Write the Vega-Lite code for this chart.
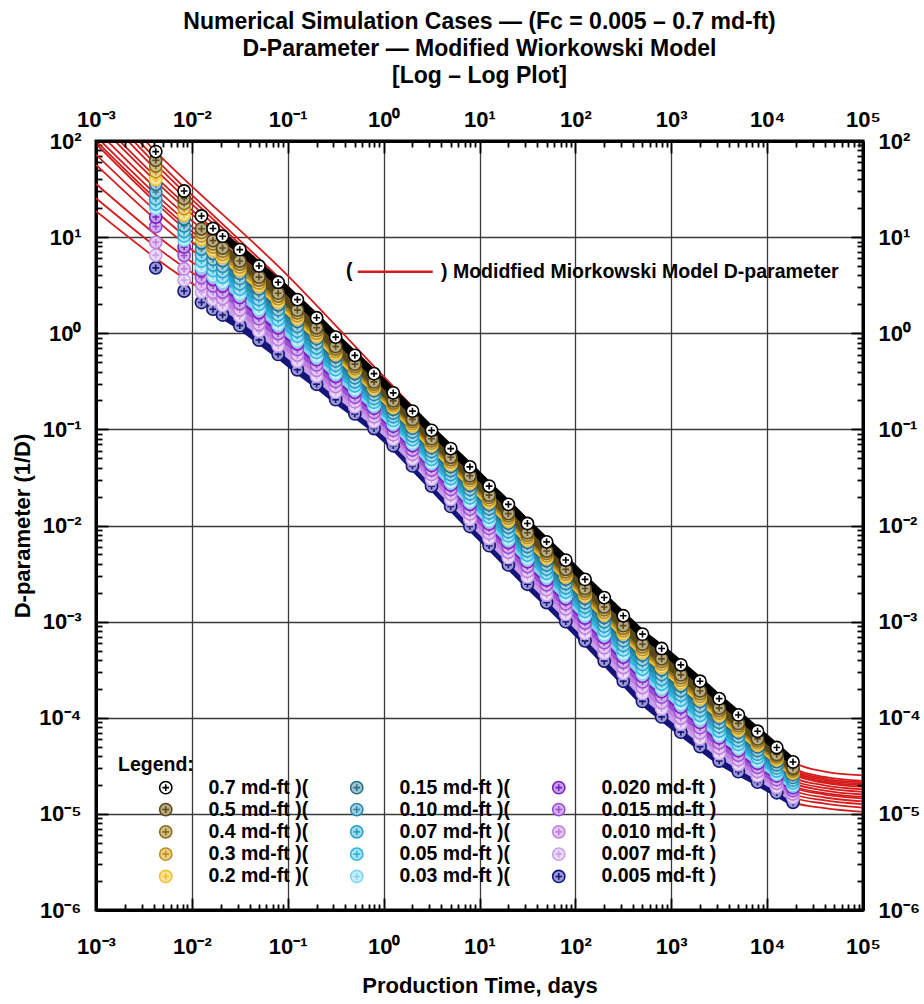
{
"$schema": "https://vega.github.io/schema/vega-lite/v6.json",
"width": 767, "height": 769,
"autosize": {"type": "none"},
"padding": {"left": 96, "top": 141, "right": 61, "bottom": 94},
"background": "white",
"title": {"text": ["Numerical Simulation Cases \u2014 (Fc = 0.005 \u2013 0.7 md-ft)", "D-Parameter \u2014 Modified Wiorkowski Model", "[Log \u2013 Log Plot]"], "frame": "group", "anchor": "middle", "font": "Liberation Sans, Arial, sans-serif", "fontSize": 23, "fontWeight": "bold", "lineHeight": 27, "offset": 14, "color": "black"},
"config": {
  "view": {"stroke": "black", "strokeWidth": 3},
  "axis": {"labelFont": "Liberation Sans, Arial, sans-serif", "labelFontSize": 22, "labelFontWeight": "bold", "labelColor": "black", "tickColor": "black", "tickWidth": 1.8, "domainColor": "black", "domainWidth": 3, "titleFont": "Liberation Sans, Arial, sans-serif", "titleFontSize": 22, "titleFontWeight": "bold", "titleColor": "black", "labelFlush": false, "labelOverlap": false, "labelBound": false, "gridColor": "#3a3a3a", "gridWidth": 1.3}
},
"datasets": {
"mdl": [
{"s":"0.005","t":0.001,"D":18.6},{"s":"0.005","t":0.0042,"D":6.03},{"s":"0.005","t":0.1,"D":0.708},{"s":"0.005","t":1,"D":0.1},{"s":"0.005","t":10,"D":0.00776},{"s":"0.005","t":100,"D":7.94e-4},{"s":"0.005","t":501,"D":1.48e-4},{"s":"0.005","t":1000,"D":8.51e-5},{"s":"0.005","t":3162,"D":3.55e-5},{"s":"0.005","t":10000,"D":1.91e-5},{"s":"0.005","t":18621,"D":1.32e-5},{"s":"0.005","t":39811,"D":1.15e-5},{"s":"0.005","t":100000,"D":1.05e-5},
{"s":"0.007","t":0.001,"D":25.4},{"s":"0.007","t":0.0042,"D":7.96},{"s":"0.007","t":0.1,"D":0.871},{"s":"0.007","t":1,"D":0.116},{"s":"0.007","t":10,"D":0.0092},{"s":"0.007","t":100,"D":9.48e-4},{"s":"0.007","t":501,"D":1.79e-4},{"s":"0.007","t":1000,"D":1.04e-4},{"s":"0.007","t":3162,"D":4.25e-5},{"s":"0.007","t":10000,"D":2.19e-5},{"s":"0.007","t":18621,"D":1.48e-5},{"s":"0.007","t":39811,"D":1.28e-5},{"s":"0.007","t":100000,"D":1.16e-5},
{"s":"0.010","t":0.001,"D":35.7},{"s":"0.010","t":0.0042,"D":10.6},{"s":"0.010","t":0.1,"D":1.02},{"s":"0.010","t":1,"D":0.13},{"s":"0.010","t":10,"D":0.0105},{"s":"0.010","t":100,"D":0.00108},{"s":"0.010","t":501,"D":2.07e-4},{"s":"0.010","t":1000,"D":1.2e-4},{"s":"0.010","t":3162,"D":4.85e-5},{"s":"0.010","t":10000,"D":2.43e-5},{"s":"0.010","t":18621,"D":1.61e-5},{"s":"0.010","t":39811,"D":1.38e-5},{"s":"0.010","t":100000,"D":1.26e-5},
{"s":"0.015","t":0.001,"D":56.6},{"s":"0.015","t":0.0042,"D":15.2},{"s":"0.015","t":0.1,"D":1.17},{"s":"0.015","t":1,"D":0.145},{"s":"0.015","t":10,"D":0.0117},{"s":"0.015","t":100,"D":0.00122},{"s":"0.015","t":501,"D":2.36e-4},{"s":"0.015","t":1000,"D":1.37e-4},{"s":"0.015","t":3162,"D":5.47e-5},{"s":"0.015","t":10000,"D":2.66e-5},{"s":"0.015","t":18621,"D":1.75e-5},{"s":"0.015","t":39811,"D":1.48e-5},{"s":"0.015","t":100000,"D":1.35e-5},
{"s":"0.020","t":0.001,"D":72.3},{"s":"0.020","t":0.0042,"D":18.7},{"s":"0.020","t":0.1,"D":1.34},{"s":"0.020","t":1,"D":0.16},{"s":"0.020","t":10,"D":0.0132},{"s":"0.020","t":100,"D":0.00137},{"s":"0.020","t":501,"D":2.69e-4},{"s":"0.020","t":1000,"D":1.56e-4},{"s":"0.020","t":3162,"D":6.17e-5},{"s":"0.020","t":10000,"D":2.92e-5},{"s":"0.020","t":18621,"D":1.88e-5},{"s":"0.020","t":39811,"D":1.59e-5},{"s":"0.020","t":100000,"D":1.45e-5},
{"s":"0.03","t":0.001,"D":93.3},{"s":"0.03","t":0.0042,"D":22.9},{"s":"0.03","t":0.1,"D":1.44},{"s":"0.03","t":1,"D":0.168},{"s":"0.03","t":10,"D":0.0139},{"s":"0.03","t":100,"D":0.00145},{"s":"0.03","t":501,"D":2.86e-4},{"s":"0.03","t":1000,"D":1.66e-4},{"s":"0.03","t":3162,"D":6.55e-5},{"s":"0.03","t":10000,"D":3.05e-5},{"s":"0.03","t":18621,"D":1.96e-5},{"s":"0.03","t":39811,"D":1.64e-5},{"s":"0.03","t":100000,"D":1.5e-5},
{"s":"0.05","t":0.001,"D":100},{"s":"0.05","t":0.0042,"D":24.9},{"s":"0.05","t":0.1,"D":1.62},{"s":"0.05","t":1,"D":0.183},{"s":"0.05","t":10,"D":0.0154},{"s":"0.05","t":100,"D":0.00161},{"s":"0.05","t":501,"D":3.21e-4},{"s":"0.05","t":1000,"D":1.87e-4},{"s":"0.05","t":3162,"D":7.28e-5},{"s":"0.05","t":10000,"D":3.31e-5},{"s":"0.05","t":18621,"D":2.1e-5},{"s":"0.05","t":39811,"D":1.75e-5},{"s":"0.05","t":100000,"D":1.59e-5},
{"s":"0.07","t":0.001,"D":112},{"s":"0.07","t":0.0042,"D":27.9},{"s":"0.07","t":0.1,"D":1.83},{"s":"0.07","t":1,"D":0.201},{"s":"0.07","t":10,"D":0.017},{"s":"0.07","t":100,"D":0.00179},{"s":"0.07","t":501,"D":3.59e-4},{"s":"0.07","t":1000,"D":2.09e-4},{"s":"0.07","t":3162,"D":8.07e-5},{"s":"0.07","t":10000,"D":3.59e-5},{"s":"0.07","t":18621,"D":2.24e-5},{"s":"0.07","t":39811,"D":1.86e-5},{"s":"0.07","t":100000,"D":1.69e-5},
{"s":"0.10","t":0.001,"D":131},{"s":"0.10","t":0.0042,"D":32.2},{"s":"0.10","t":0.1,"D":2.07},{"s":"0.10","t":1,"D":0.22},{"s":"0.10","t":10,"D":0.0188},{"s":"0.10","t":100,"D":0.00198},{"s":"0.10","t":501,"D":4.02e-4},{"s":"0.10","t":1000,"D":2.34e-4},{"s":"0.10","t":3162,"D":8.97e-5},{"s":"0.10","t":10000,"D":3.89e-5},{"s":"0.10","t":18621,"D":2.4e-5},{"s":"0.10","t":39811,"D":1.98e-5},{"s":"0.10","t":100000,"D":1.8e-5},
{"s":"0.15","t":0.001,"D":158},{"s":"0.15","t":0.0042,"D":38.1},{"s":"0.15","t":0.1,"D":2.33},{"s":"0.15","t":1,"D":0.24},{"s":"0.15","t":10,"D":0.0208},{"s":"0.15","t":100,"D":0.0022},{"s":"0.15","t":501,"D":4.5e-4},{"s":"0.15","t":1000,"D":2.63e-4},{"s":"0.15","t":3162,"D":9.95e-5},{"s":"0.15","t":10000,"D":4.22e-5},{"s":"0.15","t":18621,"D":2.57e-5},{"s":"0.15","t":39811,"D":2.1e-5},{"s":"0.15","t":100000,"D":1.91e-5},
{"s":"0.2","t":0.001,"D":178},{"s":"0.2","t":0.0042,"D":42.4},{"s":"0.2","t":0.1,"D":2.5},{"s":"0.2","t":1,"D":0.253},{"s":"0.2","t":10,"D":0.022},{"s":"0.2","t":100,"D":0.00233},{"s":"0.2","t":501,"D":4.8e-4},{"s":"0.2","t":1000,"D":2.81e-4},{"s":"0.2","t":3162,"D":1.06e-4},{"s":"0.2","t":10000,"D":4.42e-5},{"s":"0.2","t":18621,"D":2.67e-5},{"s":"0.2","t":39811,"D":2.17e-5},{"s":"0.2","t":100000,"D":1.98e-5},
{"s":"0.3","t":0.001,"D":223},{"s":"0.3","t":0.0042,"D":50.5},{"s":"0.3","t":0.1,"D":2.68},{"s":"0.3","t":1,"D":0.266},{"s":"0.3","t":10,"D":0.0233},{"s":"0.3","t":100,"D":0.00247},{"s":"0.3","t":501,"D":5.12e-4},{"s":"0.3","t":1000,"D":3e-4},{"s":"0.3","t":3162,"D":1.12e-4},{"s":"0.3","t":10000,"D":4.62e-5},{"s":"0.3","t":18621,"D":2.77e-5},{"s":"0.3","t":39811,"D":2.25e-5},{"s":"0.3","t":100000,"D":2.06e-5},
{"s":"0.4","t":0.001,"D":261},{"s":"0.4","t":0.0042,"D":57.4},{"s":"0.4","t":0.1,"D":2.87},{"s":"0.4","t":1,"D":0.278},{"s":"0.4","t":10,"D":0.0247},{"s":"0.4","t":100,"D":0.00262},{"s":"0.4","t":501,"D":5.46e-4},{"s":"0.4","t":1000,"D":3.2e-4},{"s":"0.4","t":3162,"D":1.19e-4},{"s":"0.4","t":10000,"D":4.84e-5},{"s":"0.4","t":18621,"D":2.88e-5},{"s":"0.4","t":39811,"D":2.33e-5},{"s":"0.4","t":100000,"D":2.13e-5},
{"s":"0.5","t":0.001,"D":304},{"s":"0.5","t":0.0042,"D":65.3},{"s":"0.5","t":0.1,"D":3.07},{"s":"0.5","t":1,"D":0.294},{"s":"0.5","t":10,"D":0.0261},{"s":"0.5","t":100,"D":0.00278},{"s":"0.5","t":501,"D":5.82e-4},{"s":"0.5","t":1000,"D":3.42e-4},{"s":"0.5","t":3162,"D":1.26e-4},{"s":"0.5","t":10000,"D":5.07e-5},{"s":"0.5","t":18621,"D":3e-5},{"s":"0.5","t":39811,"D":2.42e-5},{"s":"0.5","t":100000,"D":2.2e-5},
{"s":"0.7","t":0.001,"D":347},{"s":"0.7","t":0.0042,"D":77.6},{"s":"0.7","t":0.1,"D":3.98},{"s":"0.7","t":1,"D":0.355},{"s":"0.7","t":10,"D":0.0324},{"s":"0.7","t":100,"D":0.00347},{"s":"0.7","t":501,"D":7.41e-4},{"s":"0.7","t":1000,"D":4.37e-4},{"s":"0.7","t":3162,"D":1.58e-4},{"s":"0.7","t":10000,"D":6.03e-5},{"s":"0.7","t":18621,"D":3.47e-5},{"s":"0.7","t":39811,"D":2.75e-5},{"s":"0.7","t":100000,"D":2.51e-5}
],
"pts": [
{"s":"0.005","t":0.0042,"D":4.79},{"s":"0.005","t":0.0083,"D":2.75},{"s":"0.005","t":0.0126,"D":2.09},{"s":"0.005","t":0.0166,"D":1.78},{"s":"0.005","t":0.0209,"D":1.55},{"s":"0.005","t":0.0316,"D":1.2},{"s":"0.005","t":0.0501,"D":0.851},{"s":"0.005","t":0.0794,"D":0.603},{"s":"0.005","t":0.126,"D":0.417},{"s":"0.005","t":0.2,"D":0.295},{"s":"0.005","t":0.316,"D":0.204},{"s":"0.005","t":0.501,"D":0.145},{"s":"0.005","t":0.794,"D":0.102},{"s":"0.005","t":1.26,"D":0.0676},{"s":"0.005","t":2,"D":0.0417},{"s":"0.005","t":3.16,"D":0.0257},{"s":"0.005","t":5.01,"D":0.0158},{"s":"0.005","t":7.94,"D":0.00977},{"s":"0.005","t":12.6,"D":0.00617},{"s":"0.005","t":20,"D":0.00389},{"s":"0.005","t":31.6,"D":0.00245},{"s":"0.005","t":50.1,"D":0.00158},{"s":"0.005","t":79.4,"D":0.001},{"s":"0.005","t":126,"D":6.31e-4},{"s":"0.005","t":200,"D":3.89e-4},{"s":"0.005","t":316,"D":2.4e-4},{"s":"0.005","t":501,"D":1.48e-4},{"s":"0.005","t":794,"D":1.02e-4},{"s":"0.005","t":1259,"D":7.08e-5},{"s":"0.005","t":1995,"D":5.01e-5},{"s":"0.005","t":3162,"D":3.55e-5},{"s":"0.005","t":5012,"D":2.75e-5},{"s":"0.005","t":7943,"D":2.14e-5},{"s":"0.005","t":12589,"D":1.66e-5},{"s":"0.005","t":18621,"D":1.32e-5},
{"s":"0.007","t":0.0042,"D":6.5},{"s":"0.007","t":0.0083,"D":3.58},{"s":"0.007","t":0.0126,"D":2.68},{"s":"0.007","t":0.0166,"D":2.24},{"s":"0.007","t":0.0209,"D":1.94},{"s":"0.007","t":0.0316,"D":1.5},{"s":"0.007","t":0.0501,"D":1.05},{"s":"0.007","t":0.0794,"D":0.741},{"s":"0.007","t":0.126,"D":0.511},{"s":"0.007","t":0.2,"D":0.357},{"s":"0.007","t":0.316,"D":0.244},{"s":"0.007","t":0.501,"D":0.171},{"s":"0.007","t":0.794,"D":0.12},{"s":"0.007","t":1.26,"D":0.0787},{"s":"0.007","t":2,"D":0.0488},{"s":"0.007","t":3.16,"D":0.0302},{"s":"0.007","t":5.01,"D":0.0187},{"s":"0.007","t":7.94,"D":0.0116},{"s":"0.007","t":12.6,"D":0.00731},{"s":"0.007","t":20,"D":0.00463},{"s":"0.007","t":31.6,"D":0.00292},{"s":"0.007","t":50.1,"D":0.00189},{"s":"0.007","t":79.4,"D":0.00119},{"s":"0.007","t":126,"D":7.53e-4},{"s":"0.007","t":200,"D":4.67e-4},{"s":"0.007","t":316,"D":2.9e-4},{"s":"0.007","t":501,"D":1.79e-4},{"s":"0.007","t":794,"D":1.24e-4},{"s":"0.007","t":1259,"D":8.59e-5},{"s":"0.007","t":1995,"D":6.05e-5},{"s":"0.007","t":3162,"D":4.25e-5},{"s":"0.007","t":5012,"D":3.24e-5},{"s":"0.007","t":7943,"D":2.48e-5},{"s":"0.007","t":12589,"D":1.89e-5},{"s":"0.007","t":18621,"D":1.48e-5},
{"s":"0.010","t":0.0042,"D":8.83},{"s":"0.010","t":0.0083,"D":4.67},{"s":"0.010","t":0.0126,"D":3.23},{"s":"0.010","t":0.0166,"D":2.67},{"s":"0.010","t":0.0209,"D":2.3},{"s":"0.010","t":0.0316,"D":1.76},{"s":"0.010","t":0.0501,"D":1.24},{"s":"0.010","t":0.0794,"D":0.865},{"s":"0.010","t":0.126,"D":0.593},{"s":"0.010","t":0.2,"D":0.412},{"s":"0.010","t":0.316,"D":0.279},{"s":"0.010","t":0.501,"D":0.194},{"s":"0.010","t":0.794,"D":0.135},{"s":"0.010","t":1.26,"D":0.0881},{"s":"0.010","t":2,"D":0.055},{"s":"0.010","t":3.16,"D":0.034},{"s":"0.010","t":5.01,"D":0.0212},{"s":"0.010","t":7.94,"D":0.0132},{"s":"0.010","t":12.6,"D":0.00832},{"s":"0.010","t":20,"D":0.00527},{"s":"0.010","t":31.6,"D":0.00333},{"s":"0.010","t":50.1,"D":0.00215},{"s":"0.010","t":79.4,"D":0.00136},{"s":"0.010","t":126,"D":8.59e-4},{"s":"0.010","t":200,"D":5.36e-4},{"s":"0.010","t":316,"D":3.33e-4},{"s":"0.010","t":501,"D":2.07e-4},{"s":"0.010","t":794,"D":1.44e-4},{"s":"0.010","t":1259,"D":9.93e-5},{"s":"0.010","t":1995,"D":6.97e-5},{"s":"0.010","t":3162,"D":4.85e-5},{"s":"0.010","t":5012,"D":3.66e-5},{"s":"0.010","t":7943,"D":2.76e-5},{"s":"0.010","t":12589,"D":2.08e-5},{"s":"0.010","t":18621,"D":1.61e-5},
{"s":"0.015","t":0.0042,"D":12.9},{"s":"0.015","t":0.0083,"D":6.44},{"s":"0.015","t":0.0126,"D":3.81},{"s":"0.015","t":0.0166,"D":3.12},{"s":"0.015","t":0.0209,"D":2.68},{"s":"0.015","t":0.0316,"D":2.04},{"s":"0.015","t":0.0501,"D":1.42},{"s":"0.015","t":0.0794,"D":0.993},{"s":"0.015","t":0.126,"D":0.679},{"s":"0.015","t":0.2,"D":0.468},{"s":"0.015","t":0.316,"D":0.315},{"s":"0.015","t":0.501,"D":0.217},{"s":"0.015","t":0.794,"D":0.15},{"s":"0.015","t":1.26,"D":0.0975},{"s":"0.015","t":2,"D":0.061},{"s":"0.015","t":3.16,"D":0.0378},{"s":"0.015","t":5.01,"D":0.0237},{"s":"0.015","t":7.94,"D":0.0148},{"s":"0.015","t":12.6,"D":0.00933},{"s":"0.015","t":20,"D":0.00593},{"s":"0.015","t":31.6,"D":0.00374},{"s":"0.015","t":50.1,"D":0.00242},{"s":"0.015","t":79.4,"D":0.00153},{"s":"0.015","t":126,"D":9.68e-4},{"s":"0.015","t":200,"D":6.04e-4},{"s":"0.015","t":316,"D":3.78e-4},{"s":"0.015","t":501,"D":2.36e-4},{"s":"0.015","t":794,"D":1.64e-4},{"s":"0.015","t":1259,"D":1.13e-4},{"s":"0.015","t":1995,"D":7.89e-5},{"s":"0.015","t":3162,"D":5.47e-5},{"s":"0.015","t":5012,"D":4.08e-5},{"s":"0.015","t":7943,"D":3.05e-5},{"s":"0.015","t":12589,"D":2.27e-5},{"s":"0.015","t":18621,"D":1.75e-5},
{"s":"0.020","t":0.0042,"D":16.2},{"s":"0.020","t":0.0083,"D":7.91},{"s":"0.020","t":0.0126,"D":4.5},{"s":"0.020","t":0.0166,"D":3.64},{"s":"0.020","t":0.0209,"D":3.11},{"s":"0.020","t":0.0316,"D":2.36},{"s":"0.020","t":0.0501,"D":1.64},{"s":"0.020","t":0.0794,"D":1.14},{"s":"0.020","t":0.126,"D":0.776},{"s":"0.020","t":0.2,"D":0.531},{"s":"0.020","t":0.316,"D":0.355},{"s":"0.020","t":0.501,"D":0.243},{"s":"0.020","t":0.794,"D":0.166},{"s":"0.020","t":1.26,"D":0.108},{"s":"0.020","t":2,"D":0.0678},{"s":"0.020","t":3.16,"D":0.0422},{"s":"0.020","t":5.01,"D":0.0264},{"s":"0.020","t":7.94,"D":0.0166},{"s":"0.020","t":12.6,"D":0.0104},{"s":"0.020","t":20,"D":0.00665},{"s":"0.020","t":31.6,"D":0.0042},{"s":"0.020","t":50.1,"D":0.00271},{"s":"0.020","t":79.4,"D":0.00173},{"s":"0.020","t":126,"D":0.00109},{"s":"0.020","t":200,"D":6.82e-4},{"s":"0.020","t":316,"D":4.28e-4},{"s":"0.020","t":501,"D":2.69e-4},{"s":"0.020","t":794,"D":1.87e-4},{"s":"0.020","t":1259,"D":1.29e-4},{"s":"0.020","t":1995,"D":8.95e-5},{"s":"0.020","t":3162,"D":6.17e-5},{"s":"0.020","t":5012,"D":4.55e-5},{"s":"0.020","t":7943,"D":3.36e-5},{"s":"0.020","t":12589,"D":2.48e-5},{"s":"0.020","t":18621,"D":1.88e-5},
{"s":"0.03","t":0.0042,"D":19.9},{"s":"0.03","t":0.0083,"D":9.33},{"s":"0.03","t":0.0126,"D":4.89},{"s":"0.03","t":0.0166,"D":3.93},{"s":"0.03","t":0.0209,"D":3.36},{"s":"0.03","t":0.0316,"D":2.54},{"s":"0.03","t":0.0501,"D":1.76},{"s":"0.03","t":0.0794,"D":1.22},{"s":"0.03","t":0.126,"D":0.83},{"s":"0.03","t":0.2,"D":0.566},{"s":"0.03","t":0.316,"D":0.377},{"s":"0.03","t":0.501,"D":0.257},{"s":"0.03","t":0.794,"D":0.175},{"s":"0.03","t":1.26,"D":0.114},{"s":"0.03","t":2,"D":0.0714},{"s":"0.03","t":3.16,"D":0.0445},{"s":"0.03","t":5.01,"D":0.0279},{"s":"0.03","t":7.94,"D":0.0175},{"s":"0.03","t":12.6,"D":0.0111},{"s":"0.03","t":20,"D":0.00705},{"s":"0.03","t":31.6,"D":0.00445},{"s":"0.03","t":50.1,"D":0.00287},{"s":"0.03","t":79.4,"D":0.00183},{"s":"0.03","t":126,"D":0.00115},{"s":"0.03","t":200,"D":7.26e-4},{"s":"0.03","t":316,"D":4.56e-4},{"s":"0.03","t":501,"D":2.86e-4},{"s":"0.03","t":794,"D":2e-4},{"s":"0.03","t":1259,"D":1.37e-4},{"s":"0.03","t":1995,"D":9.53e-5},{"s":"0.03","t":3162,"D":6.55e-5},{"s":"0.03","t":5012,"D":4.81e-5},{"s":"0.03","t":7943,"D":3.52e-5},{"s":"0.03","t":12589,"D":2.59e-5},{"s":"0.03","t":18621,"D":1.96e-5},
{"s":"0.05","t":0.0042,"D":22.1},{"s":"0.05","t":0.0083,"D":10.3},{"s":"0.05","t":0.0126,"D":5.65},{"s":"0.05","t":0.0166,"D":4.5},{"s":"0.05","t":0.0209,"D":3.84},{"s":"0.05","t":0.0316,"D":2.88},{"s":"0.05","t":0.0501,"D":2},{"s":"0.05","t":0.0794,"D":1.38},{"s":"0.05","t":0.126,"D":0.933},{"s":"0.05","t":0.2,"D":0.632},{"s":"0.05","t":0.316,"D":0.419},{"s":"0.05","t":0.501,"D":0.284},{"s":"0.05","t":0.794,"D":0.192},{"s":"0.05","t":1.26,"D":0.124},{"s":"0.05","t":2,"D":0.0783},{"s":"0.05","t":3.16,"D":0.0488},{"s":"0.05","t":5.01,"D":0.0308},{"s":"0.05","t":7.94,"D":0.0194},{"s":"0.05","t":12.6,"D":0.0122},{"s":"0.05","t":20,"D":0.0078},{"s":"0.05","t":31.6,"D":0.00492},{"s":"0.05","t":50.1,"D":0.00318},{"s":"0.05","t":79.4,"D":0.00203},{"s":"0.05","t":126,"D":0.00128},{"s":"0.05","t":200,"D":8.07e-4},{"s":"0.05","t":316,"D":5.08e-4},{"s":"0.05","t":501,"D":3.21e-4},{"s":"0.05","t":794,"D":2.24e-4},{"s":"0.05","t":1259,"D":1.53e-4},{"s":"0.05","t":1995,"D":1.06e-4},{"s":"0.05","t":3162,"D":7.28e-5},{"s":"0.05","t":5012,"D":5.28e-5},{"s":"0.05","t":7943,"D":3.84e-5},{"s":"0.05","t":12589,"D":2.79e-5},{"s":"0.05","t":18621,"D":2.1e-5},
{"s":"0.07","t":0.0042,"D":25.1},{"s":"0.07","t":0.0083,"D":11.5},{"s":"0.07","t":0.0126,"D":6.53},{"s":"0.07","t":0.0166,"D":5.15},{"s":"0.07","t":0.0209,"D":4.38},{"s":"0.07","t":0.0316,"D":3.27},{"s":"0.07","t":0.0501,"D":2.25},{"s":"0.07","t":0.0794,"D":1.56},{"s":"0.07","t":0.126,"D":1.05},{"s":"0.07","t":0.2,"D":0.706},{"s":"0.07","t":0.316,"D":0.465},{"s":"0.07","t":0.501,"D":0.313},{"s":"0.07","t":0.794,"D":0.21},{"s":"0.07","t":1.26,"D":0.136},{"s":"0.07","t":2,"D":0.0857},{"s":"0.07","t":3.16,"D":0.0536},{"s":"0.07","t":5.01,"D":0.0339},{"s":"0.07","t":7.94,"D":0.0214},{"s":"0.07","t":12.6,"D":0.0135},{"s":"0.07","t":20,"D":0.00863},{"s":"0.07","t":31.6,"D":0.00545},{"s":"0.07","t":50.1,"D":0.00352},{"s":"0.07","t":79.4,"D":0.00225},{"s":"0.07","t":126,"D":0.00142},{"s":"0.07","t":200,"D":8.97e-4},{"s":"0.07","t":316,"D":5.68e-4},{"s":"0.07","t":501,"D":3.59e-4},{"s":"0.07","t":794,"D":2.51e-4},{"s":"0.07","t":1259,"D":1.72e-4},{"s":"0.07","t":1995,"D":1.19e-4},{"s":"0.07","t":3162,"D":8.07e-5},{"s":"0.07","t":5012,"D":5.81e-5},{"s":"0.07","t":7943,"D":4.18e-5},{"s":"0.07","t":12589,"D":3.01e-5},{"s":"0.07","t":18621,"D":2.24e-5},
{"s":"0.10","t":0.0042,"D":29.5},{"s":"0.10","t":0.0083,"D":13.1},{"s":"0.10","t":0.0126,"D":7.55},{"s":"0.10","t":0.0166,"D":5.9},{"s":"0.10","t":0.0209,"D":4.99},{"s":"0.10","t":0.0316,"D":3.72},{"s":"0.10","t":0.0501,"D":2.55},{"s":"0.10","t":0.0794,"D":1.76},{"s":"0.10","t":0.126,"D":1.18},{"s":"0.10","t":0.2,"D":0.791},{"s":"0.10","t":0.316,"D":0.516},{"s":"0.10","t":0.501,"D":0.345},{"s":"0.10","t":0.794,"D":0.231},{"s":"0.10","t":1.26,"D":0.148},{"s":"0.10","t":2,"D":0.094},{"s":"0.10","t":3.16,"D":0.0589},{"s":"0.10","t":5.01,"D":0.0373},{"s":"0.10","t":7.94,"D":0.0237},{"s":"0.10","t":12.6,"D":0.0149},{"s":"0.10","t":20,"D":0.00957},{"s":"0.10","t":31.6,"D":0.00604},{"s":"0.10","t":50.1,"D":0.0039},{"s":"0.10","t":79.4,"D":0.00249},{"s":"0.10","t":126,"D":0.00157},{"s":"0.10","t":200,"D":9.98e-4},{"s":"0.10","t":316,"D":6.34e-4},{"s":"0.10","t":501,"D":4.02e-4},{"s":"0.10","t":794,"D":2.82e-4},{"s":"0.10","t":1259,"D":1.92e-4},{"s":"0.10","t":1995,"D":1.32e-4},{"s":"0.10","t":3162,"D":8.97e-5},{"s":"0.10","t":5012,"D":6.4e-5},{"s":"0.10","t":7943,"D":4.56e-5},{"s":"0.10","t":12589,"D":3.24e-5},{"s":"0.10","t":18621,"D":2.4e-5},
{"s":"0.15","t":0.0042,"D":35.5},{"s":"0.15","t":0.0083,"D":15.5},{"s":"0.15","t":0.0126,"D":8.73},{"s":"0.15","t":0.0166,"D":6.76},{"s":"0.15","t":0.0209,"D":5.7},{"s":"0.15","t":0.0316,"D":4.22},{"s":"0.15","t":0.0501,"D":2.89},{"s":"0.15","t":0.0794,"D":1.98},{"s":"0.15","t":0.126,"D":1.33},{"s":"0.15","t":0.2,"D":0.883},{"s":"0.15","t":0.316,"D":0.573},{"s":"0.15","t":0.501,"D":0.381},{"s":"0.15","t":0.794,"D":0.253},{"s":"0.15","t":1.26,"D":0.162},{"s":"0.15","t":2,"D":0.103},{"s":"0.15","t":3.16,"D":0.0646},{"s":"0.15","t":5.01,"D":0.0411},{"s":"0.15","t":7.94,"D":0.0262},{"s":"0.15","t":12.6,"D":0.0165},{"s":"0.15","t":20,"D":0.0106},{"s":"0.15","t":31.6,"D":0.00668},{"s":"0.15","t":50.1,"D":0.00432},{"s":"0.15","t":79.4,"D":0.00277},{"s":"0.15","t":126,"D":0.00175},{"s":"0.15","t":200,"D":0.00111},{"s":"0.15","t":316,"D":7.06e-4},{"s":"0.15","t":501,"D":4.5e-4},{"s":"0.15","t":794,"D":3.16e-4},{"s":"0.15","t":1259,"D":2.15e-4},{"s":"0.15","t":1995,"D":1.48e-4},{"s":"0.15","t":3162,"D":9.95e-5},{"s":"0.15","t":5012,"D":7.03e-5},{"s":"0.15","t":7943,"D":4.97e-5},{"s":"0.15","t":12589,"D":3.5e-5},{"s":"0.15","t":18621,"D":2.57e-5},
{"s":"0.2","t":0.0042,"D":39.8},{"s":"0.2","t":0.0083,"D":17},{"s":"0.2","t":0.0126,"D":9.48},{"s":"0.2","t":0.0166,"D":7.29},{"s":"0.2","t":0.0209,"D":6.15},{"s":"0.2","t":0.0316,"D":4.54},{"s":"0.2","t":0.0501,"D":3.1},{"s":"0.2","t":0.0794,"D":2.12},{"s":"0.2","t":0.126,"D":1.42},{"s":"0.2","t":0.2,"D":0.942},{"s":"0.2","t":0.316,"D":0.608},{"s":"0.2","t":0.501,"D":0.403},{"s":"0.2","t":0.794,"D":0.267},{"s":"0.2","t":1.26,"D":0.17},{"s":"0.2","t":2,"D":0.109},{"s":"0.2","t":3.16,"D":0.0681},{"s":"0.2","t":5.01,"D":0.0435},{"s":"0.2","t":7.94,"D":0.0277},{"s":"0.2","t":12.6,"D":0.0175},{"s":"0.2","t":20,"D":0.0112},{"s":"0.2","t":31.6,"D":0.00708},{"s":"0.2","t":50.1,"D":0.00457},{"s":"0.2","t":79.4,"D":0.00293},{"s":"0.2","t":126,"D":0.00185},{"s":"0.2","t":200,"D":0.00118},{"s":"0.2","t":316,"D":7.52e-4},{"s":"0.2","t":501,"D":4.8e-4},{"s":"0.2","t":794,"D":3.37e-4},{"s":"0.2","t":1259,"D":2.3e-4},{"s":"0.2","t":1995,"D":1.57e-4},{"s":"0.2","t":3162,"D":1.06e-4},{"s":"0.2","t":5012,"D":7.43e-5},{"s":"0.2","t":7943,"D":5.21e-5},{"s":"0.2","t":12589,"D":3.66e-5},{"s":"0.2","t":18621,"D":2.67e-5},
{"s":"0.3","t":0.0042,"D":47.9},{"s":"0.3","t":0.0083,"D":19.9},{"s":"0.3","t":0.0126,"D":10.3},{"s":"0.3","t":0.0166,"D":7.89},{"s":"0.3","t":0.0209,"D":6.62},{"s":"0.3","t":0.0316,"D":4.88},{"s":"0.3","t":0.0501,"D":3.33},{"s":"0.3","t":0.0794,"D":2.28},{"s":"0.3","t":0.126,"D":1.52},{"s":"0.3","t":0.2,"D":1},{"s":"0.3","t":0.316,"D":0.646},{"s":"0.3","t":0.501,"D":0.427},{"s":"0.3","t":0.794,"D":0.281},{"s":"0.3","t":1.26,"D":0.179},{"s":"0.3","t":2,"D":0.115},{"s":"0.3","t":3.16,"D":0.0719},{"s":"0.3","t":5.01,"D":0.0459},{"s":"0.3","t":7.94,"D":0.0293},{"s":"0.3","t":12.6,"D":0.0185},{"s":"0.3","t":20,"D":0.0119},{"s":"0.3","t":31.6,"D":0.0075},{"s":"0.3","t":50.1,"D":0.00484},{"s":"0.3","t":79.4,"D":0.00311},{"s":"0.3","t":126,"D":0.00196},{"s":"0.3","t":200,"D":0.00125},{"s":"0.3","t":316,"D":8.02e-4},{"s":"0.3","t":501,"D":5.12e-4},{"s":"0.3","t":794,"D":3.61e-4},{"s":"0.3","t":1259,"D":2.45e-4},{"s":"0.3","t":1995,"D":1.67e-4},{"s":"0.3","t":3162,"D":1.12e-4},{"s":"0.3","t":5012,"D":7.83e-5},{"s":"0.3","t":7943,"D":5.47e-5},{"s":"0.3","t":12589,"D":3.82e-5},{"s":"0.3","t":18621,"D":2.77e-5},
{"s":"0.4","t":0.0042,"D":55},{"s":"0.4","t":0.0083,"D":22.4},{"s":"0.4","t":0.0126,"D":11.2},{"s":"0.4","t":0.0166,"D":8.51},{"s":"0.4","t":0.0209,"D":7.14},{"s":"0.4","t":0.0316,"D":5.25},{"s":"0.4","t":0.0501,"D":3.58},{"s":"0.4","t":0.0794,"D":2.44},{"s":"0.4","t":0.126,"D":1.63},{"s":"0.4","t":0.2,"D":1.07},{"s":"0.4","t":0.316,"D":0.685},{"s":"0.4","t":0.501,"D":0.451},{"s":"0.4","t":0.794,"D":0.296},{"s":"0.4","t":1.26,"D":0.188},{"s":"0.4","t":2,"D":0.121},{"s":"0.4","t":3.16,"D":0.0759},{"s":"0.4","t":5.01,"D":0.0485},{"s":"0.4","t":7.94,"D":0.031},{"s":"0.4","t":12.6,"D":0.0196},{"s":"0.4","t":20,"D":0.0126},{"s":"0.4","t":31.6,"D":0.00794},{"s":"0.4","t":50.1,"D":0.00513},{"s":"0.4","t":79.4,"D":0.0033},{"s":"0.4","t":126,"D":0.00208},{"s":"0.4","t":200,"D":0.00133},{"s":"0.4","t":316,"D":8.53e-4},{"s":"0.4","t":501,"D":5.46e-4},{"s":"0.4","t":794,"D":3.85e-4},{"s":"0.4","t":1259,"D":2.61e-4},{"s":"0.4","t":1995,"D":1.78e-4},{"s":"0.4","t":3162,"D":1.19e-4},{"s":"0.4","t":5012,"D":8.28e-5},{"s":"0.4","t":7943,"D":5.74e-5},{"s":"0.4","t":12589,"D":3.99e-5},{"s":"0.4","t":18621,"D":2.88e-5},
{"s":"0.5","t":0.0042,"D":63.1},{"s":"0.5","t":0.0083,"D":25.3},{"s":"0.5","t":0.0126,"D":12.2},{"s":"0.5","t":0.0166,"D":9.2},{"s":"0.5","t":0.0209,"D":7.71},{"s":"0.5","t":0.0316,"D":5.64},{"s":"0.5","t":0.0501,"D":3.84},{"s":"0.5","t":0.0794,"D":2.61},{"s":"0.5","t":0.126,"D":1.74},{"s":"0.5","t":0.2,"D":1.14},{"s":"0.5","t":0.316,"D":0.728},{"s":"0.5","t":0.501,"D":0.477},{"s":"0.5","t":0.794,"D":0.312},{"s":"0.5","t":1.26,"D":0.198},{"s":"0.5","t":2,"D":0.127},{"s":"0.5","t":3.16,"D":0.08},{"s":"0.5","t":5.01,"D":0.0513},{"s":"0.5","t":7.94,"D":0.0329},{"s":"0.5","t":12.6,"D":0.0207},{"s":"0.5","t":20,"D":0.0133},{"s":"0.5","t":31.6,"D":0.00842},{"s":"0.5","t":50.1,"D":0.00543},{"s":"0.5","t":79.4,"D":0.0035},{"s":"0.5","t":126,"D":0.00221},{"s":"0.5","t":200,"D":0.00142},{"s":"0.5","t":316,"D":9.08e-4},{"s":"0.5","t":501,"D":5.82e-4},{"s":"0.5","t":794,"D":4.1e-4},{"s":"0.5","t":1259,"D":2.79e-4},{"s":"0.5","t":1995,"D":1.9e-4},{"s":"0.5","t":3162,"D":1.26e-4},{"s":"0.5","t":5012,"D":8.73e-5},{"s":"0.5","t":7943,"D":6.03e-5},{"s":"0.5","t":12589,"D":4.16e-5},{"s":"0.5","t":18621,"D":3e-5},
{"s":"0.7","t":0.0042,"D":77.6},{"s":"0.7","t":0.0083,"D":30.2},{"s":"0.7","t":0.0126,"D":16.6},{"s":"0.7","t":0.0166,"D":12.3},{"s":"0.7","t":0.0209,"D":10.2},{"s":"0.7","t":0.0316,"D":7.41},{"s":"0.7","t":0.0501,"D":5.01},{"s":"0.7","t":0.0794,"D":3.39},{"s":"0.7","t":0.126,"D":2.24},{"s":"0.7","t":0.2,"D":1.45},{"s":"0.7","t":0.316,"D":0.912},{"s":"0.7","t":0.501,"D":0.589},{"s":"0.7","t":0.794,"D":0.38},{"s":"0.7","t":1.26,"D":0.24},{"s":"0.7","t":2,"D":0.155},{"s":"0.7","t":3.16,"D":0.0977},{"s":"0.7","t":5.01,"D":0.0631},{"s":"0.7","t":7.94,"D":0.0407},{"s":"0.7","t":12.6,"D":0.0257},{"s":"0.7","t":20,"D":0.0166},{"s":"0.7","t":31.6,"D":0.0105},{"s":"0.7","t":50.1,"D":0.00676},{"s":"0.7","t":79.4,"D":0.00437},{"s":"0.7","t":126,"D":0.00275},{"s":"0.7","t":200,"D":0.00178},{"s":"0.7","t":316,"D":0.00115},{"s":"0.7","t":501,"D":7.41e-4},{"s":"0.7","t":794,"D":5.25e-4},{"s":"0.7","t":1259,"D":3.55e-4},{"s":"0.7","t":1995,"D":2.4e-4},{"s":"0.7","t":3162,"D":1.58e-4},{"s":"0.7","t":5012,"D":1.07e-4},{"s":"0.7","t":7943,"D":7.24e-5},{"s":"0.7","t":12589,"D":4.9e-5},{"s":"0.7","t":18621,"D":3.47e-5}
]
},
"layer": [
{
"data": {"name": "mdl"},
"mark": {"type": "line", "clip": true, "strokeWidth": 1.8, "interpolate": "monotone"},
"encoding": {
  "x": {"field": "t", "type": "quantitative", "scale": {"type": "log", "domain": [0.001, 100000], "nice": false},
    "axis": {"orient": "bottom", "zindex": 0,
      "values": [0.001,0.002,0.003,0.004,0.005,0.006,0.007,0.008,0.009,0.01,0.02,0.03,0.04,0.05,0.06,0.07,0.08,0.09,0.1,0.2,0.3,0.4,0.5,0.6,0.7,0.8,0.9,1,2,3,4,5,6,7,8,9,10,20,30,40,50,60,70,80,90,100,200,300,400,500,600,700,800,900,1000,2000,3000,4000,5000,6000,7000,8000,9000,10000,20000,30000,40000,50000,60000,70000,80000,90000,100000],
      "labelExpr": "abs(log(datum.value)/LN10 - round(log(datum.value)/LN10)) < 0.01 ? '10' + ['\u207b\u2076','\u207b\u2075','\u207b\u2074','\u207b\u00b3','\u207b\u00b2','\u207b\u00b9','\u2070','\u00b9','\u00b2','\u00b3','\u2074','\u2075'][round(log(datum.value)/LN10) + 6] : ''",
      "grid": true,
      "gridOpacity": {"condition": {"test": "abs(log(datum.value)/LN10 - round(log(datum.value)/LN10)) < 0.01", "value": 1}, "value": 0},
      "tickSize": {"condition": {"test": "abs(log(datum.value)/LN10 - round(log(datum.value)/LN10)) < 0.01", "value": -12}, "value": -6},
      "labelPadding": 38,
      "title": "Production Time, days", "titleY": 75, "titleBaseline": "middle"}},
  "y": {"field": "D", "type": "quantitative", "scale": {"type": "log", "domain": [0.000001, 100], "nice": false},
    "axis": {"orient": "left", "zindex": 0,
      "values": [0.000001,0.000002,0.000003,0.000004,0.000005,0.000006,0.000007,0.000008,0.000009,0.00001,0.00002,0.00003,0.00004,0.00005,0.00006,0.00007,0.00008,0.00009,0.0001,0.0002,0.0003,0.0004,0.0005,0.0006,0.0007,0.0008,0.0009,0.001,0.002,0.003,0.004,0.005,0.006,0.007,0.008,0.009,0.01,0.02,0.03,0.04,0.05,0.06,0.07,0.08,0.09,0.1,0.2,0.3,0.4,0.5,0.6,0.7,0.8,0.9,1,2,3,4,5,6,7,8,9,10,20,30,40,50,60,70,80,90,100],
      "labelExpr": "abs(log(datum.value)/LN10 - round(log(datum.value)/LN10)) < 0.01 ? '10' + ['\u207b\u2076','\u207b\u2075','\u207b\u2074','\u207b\u00b3','\u207b\u00b2','\u207b\u00b9','\u2070','\u00b9','\u00b2','\u00b3','\u2074','\u2075'][round(log(datum.value)/LN10) + 6] : ''",
      "grid": true,
      "gridOpacity": {"condition": {"test": "abs(log(datum.value)/LN10 - round(log(datum.value)/LN10)) < 0.01", "value": 1}, "value": 0},
      "tickSize": {"condition": {"test": "abs(log(datum.value)/LN10 - round(log(datum.value)/LN10)) < 0.01", "value": -12}, "value": -6},
      "labelPadding": 27,
      "title": "D-parameter (1/D)", "titleX": -74, "titleBaseline": "middle"}},
  "detail": {"field": "s"},
  "color": {"datum": "Modidfied Miorkowski Model D-parameter", "type": "nominal", "scale": {"range": ["#d41c1c"]},
    "legend": {"orient": "none", "legendX": 250, "legendY": 121, "padding": 0, "title": "(", "titleOrient": "left", "titleFont": "Liberation Sans, Arial, sans-serif", "titleFontSize": 19.5, "titleFontWeight": "bold", "titleColor": "black", "titlePadding": 3, "titleAnchor": "start", "titleBaseline": "top", "symbolType": "M-5,0L5,0", "symbolSize": 225, "symbolOffset": 29.5, "symbolStrokeWidth": 2.5, "labelExpr": "') ' + datum.label", "labelFont": "Liberation Sans, Arial, sans-serif", "labelFontSize": 19.5, "labelFontWeight": "bold", "labelColor": "black", "labelOffset": 36, "labelLimit": 600}}
}
},
{
"data": {"name": "pts"},
"transform": [{"filter": "datum.t > 0.016"}],
"mark": {"type": "line", "clip": true, "strokeWidth": 8},
"encoding": {
  "x": {"field": "t", "type": "quantitative", "scale": {"type": "log", "domain": [0.001, 100000], "nice": false},
    "axis": {"orient": "top", "zindex": 1,
      "values": [0.001,0.002,0.003,0.004,0.005,0.006,0.007,0.008,0.009,0.01,0.02,0.03,0.04,0.05,0.06,0.07,0.08,0.09,0.1,0.2,0.3,0.4,0.5,0.6,0.7,0.8,0.9,1,2,3,4,5,6,7,8,9,10,20,30,40,50,60,70,80,90,100,200,300,400,500,600,700,800,900,1000,2000,3000,4000,5000,6000,7000,8000,9000,10000,20000,30000,40000,50000,60000,70000,80000,90000,100000],
      "labelExpr": "abs(log(datum.value)/LN10 - round(log(datum.value)/LN10)) < 0.01 ? '10' + ['\u207b\u2076','\u207b\u2075','\u207b\u2074','\u207b\u00b3','\u207b\u00b2','\u207b\u00b9','\u2070','\u00b9','\u00b2','\u00b3','\u2074','\u2075'][round(log(datum.value)/LN10) + 6] : ''",
      "grid": false,
      "tickSize": {"condition": {"test": "abs(log(datum.value)/LN10 - round(log(datum.value)/LN10)) < 0.01", "value": -12}, "value": -6},
      "labelPadding": 22, "title": null}},
  "y": {"field": "D", "type": "quantitative", "scale": {"type": "log", "domain": [0.000001, 100], "nice": false},
    "axis": {"orient": "right", "zindex": 1,
      "values": [0.000001,0.000002,0.000003,0.000004,0.000005,0.000006,0.000007,0.000008,0.000009,0.00001,0.00002,0.00003,0.00004,0.00005,0.00006,0.00007,0.00008,0.00009,0.0001,0.0002,0.0003,0.0004,0.0005,0.0006,0.0007,0.0008,0.0009,0.001,0.002,0.003,0.004,0.005,0.006,0.007,0.008,0.009,0.01,0.02,0.03,0.04,0.05,0.06,0.07,0.08,0.09,0.1,0.2,0.3,0.4,0.5,0.6,0.7,0.8,0.9,1,2,3,4,5,6,7,8,9,10,20,30,40,50,60,70,80,90,100],
      "labelExpr": "abs(log(datum.value)/LN10 - round(log(datum.value)/LN10)) < 0.01 ? '10' + ['\u207b\u2076','\u207b\u2075','\u207b\u2074','\u207b\u00b3','\u207b\u00b2','\u207b\u00b9','\u2070','\u00b9','\u00b2','\u00b3','\u2074','\u2075'][round(log(datum.value)/LN10) + 6] : ''",
      "grid": false,
      "tickSize": {"condition": {"test": "abs(log(datum.value)/LN10 - round(log(datum.value)/LN10)) < 0.01", "value": -12}, "value": -6},
      "labelPadding": 27, "title": null}},
  "stroke": {"field": "s", "type": "nominal",
    "scale": {"domain": ["0.7","0.5","0.4","0.3","0.2","0.15","0.10","0.07","0.05","0.03","0.020","0.015","0.010","0.007","0.005"], "range": ["#000000","#5a4a1a","#8a6d1c","#c09020","#f0c030","#2a6f86","#2a87a8","#2a9fc5","#30b5e0","#7fd4ef","#7a1fc0","#9b4fd4","#c07fe0","#c9a0ea","#14147a"]},
    "legend": {"orient": "none", "legendX": 22, "legendY": 615, "padding": 0, "columns": 3, "title": "Legend:", "titleFont": "Liberation Sans, Arial, sans-serif", "titleFontSize": 19.5, "titleFontWeight": "bold", "titleColor": "black", "titlePadding": 2, "symbolType": "M-1,0A1,1 0 1,1 1,0A1,1 0 1,1 -1,0ZM-0.55,0L0.55,0M0,-0.55L0,0.55", "symbolSize": 150, "symbolFillColor": "white", "symbolStrokeWidth": 1.6, "symbolOffset": 38, "labelOffset": 33, "columnPadding": -14, "rowPadding": 1.3, "labelFont": "Liberation Sans, Arial, sans-serif", "labelFontSize": 19.5, "labelFontWeight": "bold", "labelColor": "black", "labelLimit": 300, "labelExpr": "datum.label + (indexof(['0.020','0.015','0.010','0.007','0.005'], datum.label) >= 0 ? ' md-ft )' : ' md-ft )(')"}}
}
},
{
"data": {"name": "pts"},
"mark": {"type": "point", "clip": true, "shape": "M-1,0A1,1 0 1,1 1,0A1,1 0 1,1 -1,0ZM-0.55,0L0.55,0M0,-0.55L0,0.55", "size": 150, "filled": true, "opacity": 1, "strokeWidth": 1.6, "strokeOpacity": 1, "fillOpacity": 1},
"encoding": {
  "x": {"field": "t", "type": "quantitative", "scale": {"type": "log", "domain": [0.001, 100000], "nice": false}, "axis": null},
  "y": {"field": "D", "type": "quantitative", "scale": {"type": "log", "domain": [0.000001, 100], "nice": false}, "axis": null},
  "stroke": {"field": "s", "type": "nominal",
    "scale": {"domain": ["0.7","0.5","0.4","0.3","0.2","0.15","0.10","0.07","0.05","0.03","0.020","0.015","0.010","0.007","0.005"], "range": ["#000000","#5a4a1a","#8a6d1c","#c09020","#f0c030","#2a6f86","#2a87a8","#2a9fc5","#30b5e0","#7fd4ef","#7a1fc0","#9b4fd4","#c07fe0","#c9a0ea","#14147a"]},
    "legend": {"orient": "none", "legendX": 22, "legendY": 615, "padding": 0, "columns": 3, "title": "Legend:", "titleFont": "Liberation Sans, Arial, sans-serif", "titleFontSize": 19.5, "titleFontWeight": "bold", "titleColor": "black", "titlePadding": 2, "symbolType": "M-1,0A1,1 0 1,1 1,0A1,1 0 1,1 -1,0ZM-0.55,0L0.55,0M0,-0.55L0,0.55", "symbolSize": 150, "symbolFillColor": "white", "symbolStrokeWidth": 1.6, "symbolOffset": 38, "labelOffset": 33, "columnPadding": -14, "rowPadding": 1.3, "labelFont": "Liberation Sans, Arial, sans-serif", "labelFontSize": 19.5, "labelFontWeight": "bold", "labelColor": "black", "labelLimit": 300, "labelExpr": "datum.label + (indexof(['0.020','0.015','0.010','0.007','0.005'], datum.label) >= 0 ? ' md-ft )' : ' md-ft )(')"}},
  "fill": {"field": "s", "type": "nominal", "legend": null,
    "scale": {"domain": ["0.7","0.5","0.4","0.3","0.2","0.15","0.10","0.07","0.05","0.03","0.020","0.015","0.010","0.007","0.005"], "range": ["#ffffff","#b8ab86","#d1bd86","#ecd08a","#f8e4a0","#9fc6d4","#9fd0e2","#a0dbef","#a8e4f7","#c8eefa","#c7a3e6","#d4b2ee","#e4c9f2","#eadcf6","#9a9ad0"]}}
}
}
],
"resolve": {"axis": {"x": "independent", "y": "independent"}}
}
